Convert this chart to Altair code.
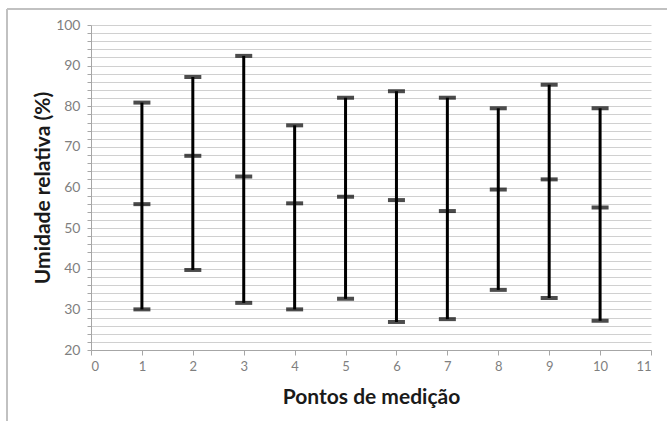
import altair as alt
import pandas as pd

points = [1, 2, 3, 4, 5, 6, 7, 8, 9, 10]
min_vals = [30.0, 39.7, 31.6, 30.0, 32.6, 26.9, 27.6, 34.8, 32.8, 27.2]
mean_vals = [55.9, 67.8, 62.7, 56.1, 57.7, 56.9, 54.2, 59.5, 62.0, 55.1]
max_vals = [80.9, 87.2, 92.4, 75.3, 82.1, 83.7, 82.1, 79.5, 85.3, 79.5]

df = pd.DataFrame({"ponto": points, "min": min_vals, "mean": mean_vals, "max": max_vals})
long = df.melt(id_vars="ponto", value_vars=["min", "mean", "max"], var_name="stat", value_name="valor")

FONT = "Lato"
x_scale = alt.Scale(domain=[0, 11], nice=False, zero=False)
y_scale = alt.Scale(domain=[20, 100], nice=False, zero=False)

x_axis = alt.Axis(
    values=list(range(0, 12)), grid=False, tickSize=5, tickColor="#a6a6a6",
    domainColor="#a6a6a6", labelColor="#7f7f7f", labelFontSize=13, labelFont=FONT,
    labelPadding=5, title="Pontos de medição", titleFont=FONT, titleFontSize=21,
    titleFontWeight="bold", titleColor="#1a1a1a", titleY=47, titleBaseline="middle",
)
y_axis = alt.Axis(
    values=list(range(20, 101, 2)),
    labelExpr="datum.value % 10 == 0 ? datum.label : ''",
    grid=True, gridColor="#d0d0d0", gridWidth=1, tickSize=4, tickColor="#a6a6a6",
    domainColor="#a6a6a6", labelColor="#7f7f7f", labelFontSize=14, labelFont=FONT,
    labelPadding=7, title="Umidade relativa (%)", titleFont=FONT, titleFontSize=21,
    titleFontWeight="bold", titleColor="#1a1a1a", titleX=-48, titleBaseline="middle",
    titleAngle=-90,
)

bars = alt.Chart(df).mark_rule(color="black", strokeWidth=3).encode(
    x=alt.X("ponto:Q", scale=x_scale, axis=x_axis),
    y=alt.Y("min:Q", scale=y_scale, axis=y_axis),
    y2="max:Q",
)
ticks = alt.Chart(long).mark_tick(orient="horizontal", size=17, thickness=4, color="black").encode(
    x=alt.X("ponto:Q", scale=x_scale, axis=x_axis),
    y=alt.Y("valor:Q", scale=y_scale, axis=y_axis),
)

frame_top = alt.Chart(df).mark_rule(color="#c0c0c0", strokeWidth=1.5).encode(
    x=alt.value(-84), x2=alt.value(600), y=alt.value(-16)
)
frame_left = alt.Chart(df).mark_rule(color="#c0c0c0", strokeWidth=1.5).encode(
    x=alt.value(-84), y=alt.value(-16), y2=alt.value(420)
)

chart = alt.layer(bars, ticks, frame_top, frame_left).resolve_axis(
    x="shared", y="shared"
).properties(
    width=560, height=325,
    autosize=alt.AutoSizeParams(type="none"),
    padding={"left": 91, "top": 25, "right": 16, "bottom": 71},
    background="white",
).configure_view(stroke=None)

chart.save("out.html", embed_options={"renderer": "svg", "actions": False})
